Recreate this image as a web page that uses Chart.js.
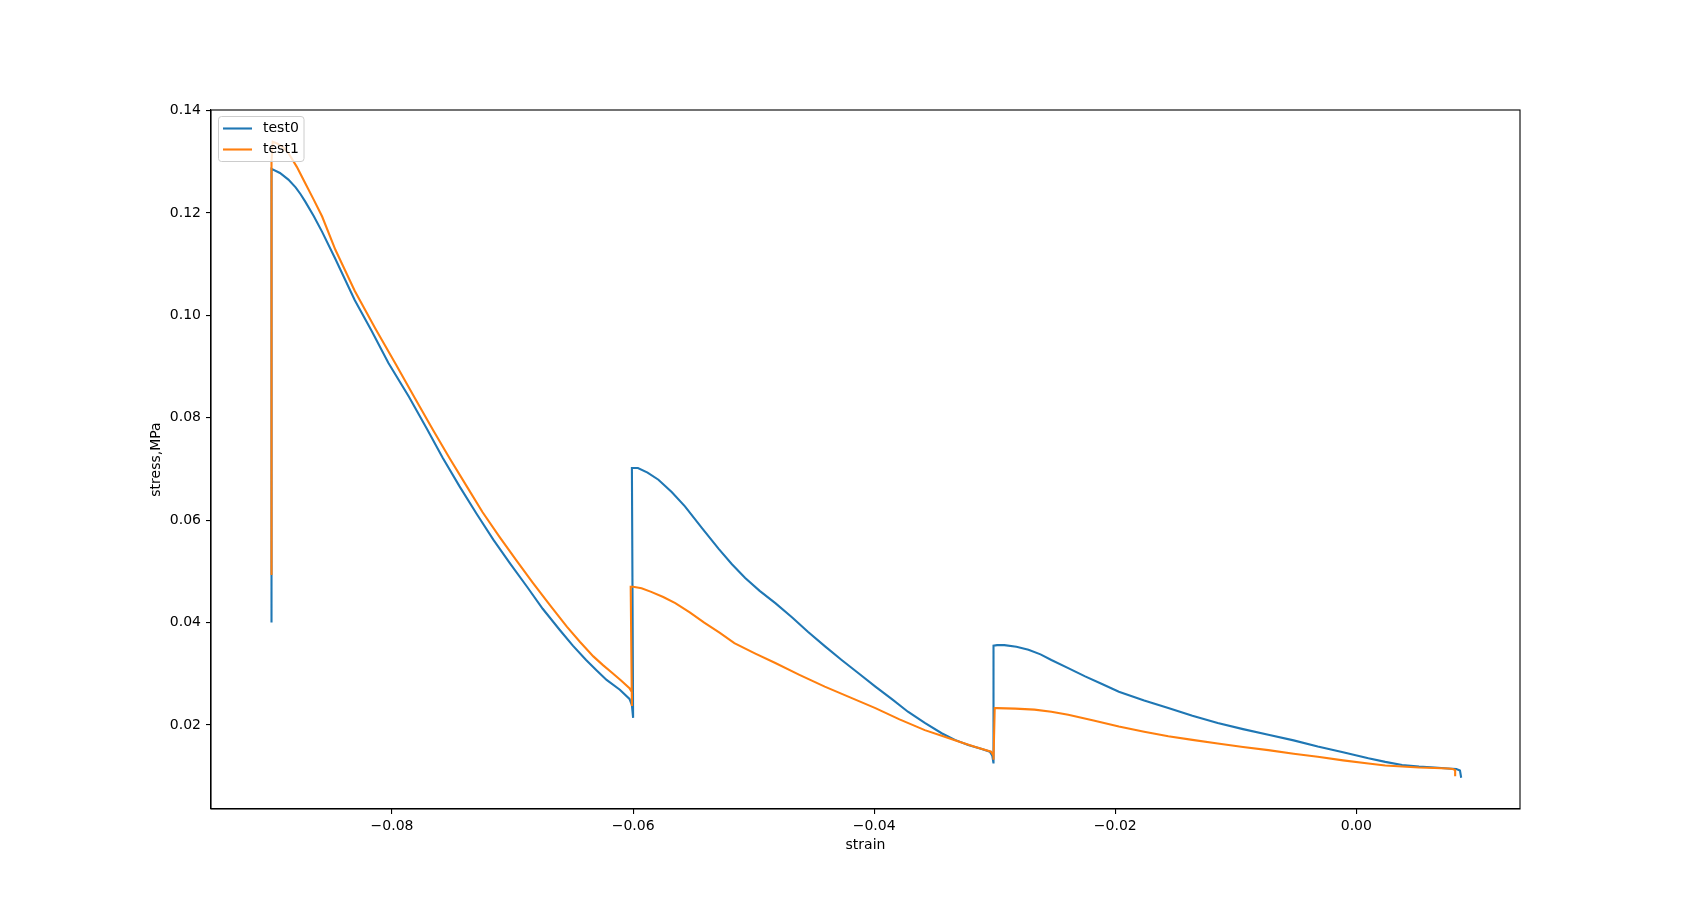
<!DOCTYPE html>
<html>
<head>
<meta charset="utf-8">
<script src="https://cdn.jsdelivr.net/npm/chart.js@4.4.1/dist/chart.umd.min.js"></script>
<style>
  html, body { margin: 0; padding: 0; background: #fff; }
  #wrap { width: 1689px; height: 909px; }
</style>
</head>
<body>
<div id="wrap"><canvas id="myChart" width="1689" height="909"></canvas></div>
<script>
// series labels
const seriesNames = ["test0", "test1"];

// test0: strain / stress
const test0Strain = [
  -0.0900, -0.0900, -0.0893, -0.0886, -0.0880, -0.0876, -0.0872, -0.0865, -0.0858, -0.0847, -0.0839,
  -0.0831, -0.0817, -0.0803, -0.0786, -0.0771, -0.0758, -0.0744, -0.0730, -0.0716, -0.0702,
  -0.0688, -0.0675, -0.0661, -0.0650, -0.0639, -0.0630, -0.0622, -0.0611, -0.0603, -0.0601,
  -0.0600, -0.0601,
  -0.0596, -0.0588, -0.0579, -0.0568, -0.0557, -0.0543, -0.0529, -0.0518, -0.0507, -0.0495,
  -0.0482, -0.0468, -0.0455, -0.0441, -0.0427, -0.0413, -0.0399, -0.0385, -0.0372, -0.0358,
  -0.0344, -0.0333, -0.0322, -0.0312, -0.0304, -0.0302, -0.0301, -0.0301,
  -0.0298, -0.0292, -0.0282, -0.0272, -0.0262, -0.0253, -0.0239, -0.0225, -0.0211, -0.0197,
  -0.0176, -0.0156, -0.0136, -0.0115, -0.0094, -0.0073, -0.0052, -0.0032, -0.0011, 0.0010,
  0.0024, 0.0038, 0.0052, 0.0065, 0.0076, 0.0083, 0.0086, 0.0087
];
const test0Stress = [
  0.0400, 0.1286, 0.1278, 0.1265, 0.1250, 0.1237, 0.1222, 0.1194, 0.1163, 0.1110, 0.1070,
  0.1030, 0.0970, 0.0907, 0.0841, 0.0778, 0.0722, 0.0666, 0.0613, 0.0562, 0.0515,
  0.0470, 0.0427, 0.0386, 0.0355, 0.0327, 0.0306, 0.0288, 0.0269, 0.0251, 0.0239,
  0.0214, 0.0702,
  0.0702, 0.0693, 0.0679, 0.0655, 0.0627, 0.0585, 0.0544, 0.0514, 0.0487, 0.0462,
  0.0438, 0.0410, 0.0382, 0.0354, 0.0327, 0.0301, 0.0275, 0.0250, 0.0226, 0.0204,
  0.0184, 0.0171, 0.0161, 0.0154, 0.0148, 0.0140, 0.0125, 0.0355,
  0.0356, 0.0356, 0.0353, 0.0347, 0.0338, 0.0327, 0.0311, 0.0295, 0.0280, 0.0265,
  0.0248, 0.0233, 0.0218, 0.0204, 0.0192, 0.0181, 0.0170, 0.0158, 0.0147, 0.0135,
  0.0128, 0.0122, 0.0119, 0.0117, 0.0115, 0.0114, 0.0111, 0.0097
];

// test1
const test1Strain = [
  -0.0900, -0.0900, -0.0899, -0.0895, -0.0890, -0.0886, -0.0879, -0.0872, -0.0865, -0.0858,
  -0.0847, -0.0839, -0.0831, -0.0814, -0.0797, -0.0781, -0.0766, -0.0752, -0.0738, -0.0725,
  -0.0711, -0.0697, -0.0683, -0.0669, -0.0655, -0.0644, -0.0633, -0.0625, -0.0617, -0.0610,
  -0.0603, -0.0601, -0.0601, -0.0602,
  -0.0600, -0.0593, -0.0585, -0.0575, -0.0565, -0.0553, -0.0541, -0.0528, -0.0516, -0.0499,
  -0.0482, -0.0462, -0.0441, -0.0420, -0.0399, -0.0379, -0.0358, -0.0344, -0.0330, -0.0316,
  -0.0303, -0.0301, -0.0301, -0.0300,
  -0.0298, -0.0283, -0.0267, -0.0253, -0.0239, -0.0218, -0.0197, -0.0176, -0.0156, -0.0136,
  -0.0115, -0.0094, -0.0073, -0.0052, -0.0032, -0.0011, 0.0010, 0.0024, 0.0038, 0.0052,
  0.0065, 0.0076, 0.0080, 0.0082, 0.0082
];
const test1Stress = [
  0.0493, 0.1300, 0.1339, 0.1335, 0.1327, 0.1317, 0.1290, 0.1258, 0.1226, 0.1193,
  0.1128, 0.1088, 0.1048, 0.0975, 0.0905, 0.0838, 0.0776, 0.0720, 0.0666, 0.0616,
  0.0568, 0.0522, 0.0477, 0.0434, 0.0392, 0.0362, 0.0334, 0.0317, 0.0301, 0.0287,
  0.0272, 0.0264, 0.0237, 0.0470,
  0.0470, 0.0467, 0.0460, 0.0450, 0.0438, 0.0420, 0.0400, 0.0380, 0.0360, 0.0340,
  0.0321, 0.0298, 0.0275, 0.0254, 0.0233, 0.0211, 0.0190, 0.0179, 0.0168, 0.0157,
  0.0148, 0.0140, 0.0132, 0.0233,
  0.0233, 0.0232, 0.0230, 0.0226, 0.0220, 0.0209, 0.0197, 0.0187, 0.0178, 0.0171,
  0.0164, 0.0157, 0.0151, 0.0144, 0.0138, 0.0131, 0.0125, 0.0121, 0.0119, 0.0117,
  0.0116, 0.0115, 0.0114, 0.0112, 0.0100
];

// tick labels
const xTicks = [-0.08, -0.06, -0.04, -0.02, 0.00];
const yTicks = [0.02, 0.04, 0.06, 0.08, 0.10, 0.12, 0.14];

const colors = ["#1f77b4", "#ff7f0e"];
const fontFamily = "'DejaVu Sans', sans-serif";

function toPoints(xs, ys) {
  return xs.map((x, i) => ({ x: x, y: ys[i] }));
}

function fmt(v) {
  return v.toFixed(2).replace("-", "\u2212");
}

// box around the plot area plus the legend in the upper left corner
const framePlugin = {
  id: "frame",
  afterDraw(chart) {
    const ctx = chart.ctx;
    const a = chart.chartArea;
    ctx.save();
    ctx.strokeStyle = "#000";
    ctx.lineWidth = 1.1;
    ctx.strokeRect(a.left, a.top, a.right - a.left, a.bottom - a.top);

    // legend
    const bx = 218.5, by = 116.5, bw = 85.5, bh = 45, r = 3;
    ctx.beginPath();
    ctx.moveTo(bx + r, by);
    ctx.lineTo(bx + bw - r, by);
    ctx.quadraticCurveTo(bx + bw, by, bx + bw, by + r);
    ctx.lineTo(bx + bw, by + bh - r);
    ctx.quadraticCurveTo(bx + bw, by + bh, bx + bw - r, by + bh);
    ctx.lineTo(bx + r, by + bh);
    ctx.quadraticCurveTo(bx, by + bh, bx, by + bh - r);
    ctx.lineTo(bx, by + r);
    ctx.quadraticCurveTo(bx, by, bx + r, by);
    ctx.closePath();
    ctx.fillStyle = "rgba(255,255,255,0.8)";
    ctx.fill();
    ctx.strokeStyle = "#cccccc";
    ctx.lineWidth = 1;
    ctx.stroke();

    ctx.font = "14px " + fontFamily;
    ctx.textBaseline = "middle";
    chart.data.datasets.forEach((ds, i) => {
      const ly = 128.5 + i * 21;
      ctx.beginPath();
      ctx.moveTo(223, ly);
      ctx.lineTo(252, ly);
      ctx.strokeStyle = ds.borderColor;
      ctx.lineWidth = 2.1;
      ctx.stroke();
      ctx.fillStyle = "#000";
      ctx.fillText(ds.label, 263, ly);
    });
    ctx.restore();
  }
};

const ctx = document.getElementById("myChart").getContext("2d");
const myChart = new Chart(ctx, {
  type: "line",
  data: {
    datasets: [
      {
        label: seriesNames[0],
        data: toPoints(test0Strain, test0Stress),
        borderColor: colors[0],
        borderWidth: 2.1,
        pointRadius: 0,
        tension: 0,
        fill: false,
        order: 1 // drawn under test1
      },
      {
        label: seriesNames[1],
        data: toPoints(test1Strain, test1Stress),
        borderColor: colors[1],
        borderWidth: 2.1,
        pointRadius: 0,
        tension: 0,
        fill: false,
        order: 0
      }
    ]
  },
  options: {
    responsive: false,
    animation: false,
    layout: { padding: { left: 0, top: 110, right: 169, bottom: 0 } },
    plugins: {
      legend: { display: false },
      tooltip: { enabled: false }
    },
    scales: {
      x: {
        type: "linear",
        min: -0.09502,
        max: 0.01358,
        afterBuildTicks: (scale) => { scale.ticks = xTicks.map(v => ({ value: v })); },
        afterFit: (scale) => { scale.height = 100; },
        grid: { drawOnChartArea: false, drawTicks: true, tickLength: 5, color: "#000", lineWidth: 1.1 },
        border: { display: true, color: "#000", width: 1.1 },
        ticks: {
          color: "#000",
          padding: 4,
          maxRotation: 0,
          font: { family: fontFamily, size: 14 },
          callback: (v) => fmt(v)
        },
        title: {
          display: true,
          text: "strain",
          color: "#000",
          font: { family: fontFamily, size: 14 },
          padding: { top: 4, bottom: 55 }
        }
      },
      y: {
        type: "linear",
        min: 0.0036,
        max: 0.1401,
        afterBuildTicks: (scale) => { scale.ticks = yTicks.map(v => ({ value: v })); },
        afterFit: (scale) => { scale.width = 211; },
        grid: { drawOnChartArea: false, drawTicks: true, tickLength: 5, color: "#000", lineWidth: 1.1 },
        border: { display: true, color: "#000", width: 1.1 },
        ticks: {
          color: "#000",
          padding: 5,
          font: { family: fontFamily, size: 14 },
          callback: (v) => fmt(v)
        },
        title: {
          display: true,
          text: "stress,MPa",
          color: "#000",
          font: { family: fontFamily, size: 14 },
          padding: { top: 148, bottom: 4 }
        }
      }
    }
  },
  plugins: [framePlugin]
});
</script>
</body>
</html>
